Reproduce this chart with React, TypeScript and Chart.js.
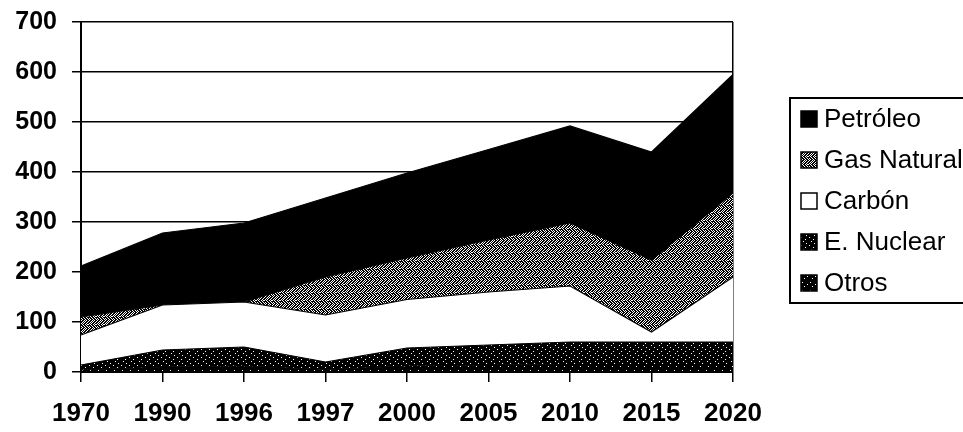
import React, { useEffect, useRef } from "react";
import { Chart, registerables } from "chart.js";

Chart.register(...registerables);

const years = ["1970", "1990", "1996", "1997", "2000", "2005", "2010", "2015", "2020"];
const otros = [4, 10, 12, 5, 12, 14, 15, 15, 15];
const nuclear = [10, 34, 38, 15, 36, 40, 45, 45, 45];
const carbon = [60, 90, 90, 94, 97, 106, 112, 20, 130];
const gasNatural = [36, 0, 0, 76, 83, 104, 126, 144, 168];
const petroleo = [102, 144, 158, 158, 170, 181, 194, 216, 237];
const yTicks = [0, 100, 200, 300, 400, 500, 600, 700];

const GAS_TILE = [
  "10110101",
  "01101011",
  "11010110",
  "10101101",
  "01011010",
  "11101101",
  "10110110",
  "01011011",
];
const DARK_TILE = [
  "11111111",
  "11101111",
  "11111111",
  "11111101",
  "11111111",
  "10111111",
  "11111111",
  "11111011",
];
const DARK2_TILE = [
  "11111111",
  "11111111",
  "11011111",
  "11111111",
  "11111110",
  "11111111",
  "11110111",
  "11111111",
];

function makePattern(tile: string[]): CanvasPattern | string {
  const c = document.createElement("canvas");
  c.width = tile[0].length;
  c.height = tile.length;
  const cx = c.getContext("2d");
  if (!cx) return "#666";
  for (let y = 0; y < tile.length; y++) {
    for (let x = 0; x < tile[y].length; x++) {
      cx.fillStyle = tile[y][x] === "1" ? "#000" : "#fff";
      cx.fillRect(x, y, 1, 1);
    }
  }
  const p = cx.createPattern(c, "repeat");
  return p || "#666";
}

const FONT = "'Liberation Sans', Arial, sans-serif";

export default function App() {
  const ref = useRef<HTMLCanvasElement | null>(null);

  useEffect(() => {
    document.body.style.margin = "0";
    const canvas = ref.current;
    if (!canvas) return;
    const gasPat = makePattern(GAS_TILE);
    const darkPat = makePattern(DARK_TILE);
    const dark2Pat = makePattern(DARK2_TILE);

    const legendPlugin = {
      id: "customLegend",
      afterDraw(chart: any) {
        const ctx = chart.ctx as CanvasRenderingContext2D;
        const ds = chart.data.datasets.slice().reverse();
        const rows = [119, 160, 201, 242, 283];
        ctx.save();
        ctx.lineWidth = 2;
        ctx.strokeStyle = "#000";
        ctx.fillStyle = "#fff";
        ctx.fillRect(790, 98, 220, 205);
        ctx.strokeRect(790, 98, 220, 205);
        ctx.font = "26px " + FONT;
        ctx.textBaseline = "middle";
        ds.forEach((d: any, i: number) => {
          const cy = rows[i];
          ctx.fillStyle = d.backgroundColor;
          ctx.fillRect(801, cy - 8, 16, 16);
          ctx.lineWidth = 1.5;
          ctx.strokeStyle = "#000";
          ctx.strokeRect(801, cy - 8, 16, 16);
          ctx.fillStyle = "#000";
          ctx.fillText(d.label, 824, cy + 1);
        });
        ctx.restore();
      },
    };

    const mk = (label: string, data: number[], bg: any, fill: any) => ({
      label,
      data,
      backgroundColor: bg,
      borderColor: "#000",
      borderWidth: 1.2,
      fill,
      pointRadius: 0,
      tension: 0,
    });

    const chart = new Chart(canvas, {
      type: "line",
      data: {
        labels: years,
        datasets: [
          mk("Otros", otros, dark2Pat, "origin"),
          mk("E. Nuclear", nuclear, darkPat, "-1"),
          mk("Carbón", carbon, "#ffffff", "-1"),
          mk("Gas Natural", gasNatural, gasPat, "-1"),
          mk("Petróleo", petroleo, "#000000", "-1"),
        ],
      },
      options: {
        responsive: false,
        animation: false,
        layout: { padding: { left: 0, top: 22, right: 230, bottom: 0 } },
        plugins: {
          legend: { display: false },
          tooltip: { enabled: false },
        },
        scales: {
          x: {
            type: "category",
            offset: false,
            grid: {
              display: true,
              drawOnChartArea: true,
              color: (c: any) => (c.index === years.length - 1 ? "#000" : "rgba(0,0,0,0)"),
              tickColor: "#000",
              tickLength: 10,
              lineWidth: 1.5,
            },
            border: { display: true, color: "#000", width: 2 },
            ticks: {
              color: "#000",
              padding: 16,
              maxRotation: 0,
              autoSkip: false,
              font: { family: FONT, size: 26, weight: "bold" },
            },
            afterFit: (s: any) => {
              s.height = 60;
              s.paddingLeft = 0;
              s.paddingRight = 0;
            },
          },
          y: {
            stacked: true,
            min: 0,
            max: 700,
            afterBuildTicks: (s: any) => {
              s.ticks = yTicks.map((v) => ({ value: v }));
            },
            grid: {
              color: "#000",
              lineWidth: 1.5,
              tickColor: "#000",
              tickLength: 9,
            },
            border: { display: true, color: "#000", width: 2 },
            ticks: {
              color: "#000",
              padding: 15,
              font: { family: FONT, size: 25, weight: "bold" },
            },
            afterFit: (s: any) => {
              s.width = 81;
              s.paddingTop = 0;
              s.paddingBottom = 0;
            },
          },
        },
      },
      plugins: [legendPlugin],
    });

    return () => chart.destroy();
  }, []);

  return (
    <div style={{ position: "absolute", left: 0, top: 0, width: 963, height: 432, overflow: "hidden", background: "#fff" }}>
      <canvas ref={ref} width={963} height={432} style={{ width: 963, height: 432, display: "block" }} />
    </div>
  );
}
